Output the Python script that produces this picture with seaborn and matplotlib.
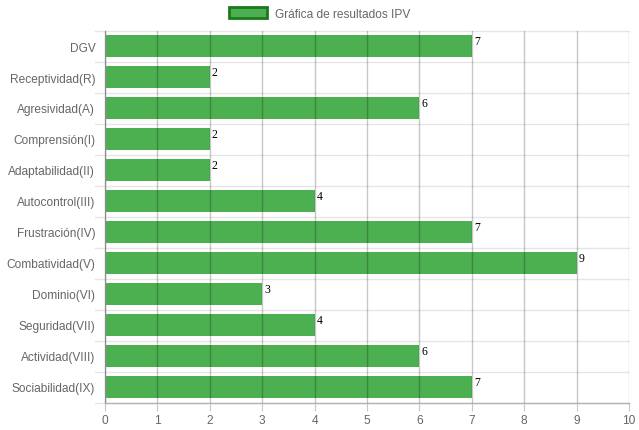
import matplotlib
matplotlib.use("Agg")
import matplotlib.pyplot as plt
import seaborn as sns
import pandas as pd
from matplotlib.patches import Patch

categories = ["DGV", "Receptividad(R)", "Agresividad(A)", "Comprensión(I)",
              "Adaptabilidad(II)", "Autocontrol(III)", "Frustración(IV)",
              "Combatividad(V)", "Dominio(VI)", "Seguridad(VII)",
              "Actividad(VIII)", "Sociabilidad(IX)"]
values = [7, 2, 6, 2, 2, 4, 7, 9, 3, 4, 6, 7]
x_ticks = list(range(0, 11))
series_name = "Gráfica de resultados IPV"

df = pd.DataFrame({"categoria": categories, "valor": values})

sns.set_style("white")
plt.rcParams["font.family"] = ["Liberation Sans", "DejaVu Sans"]

fig = plt.figure(figsize=(6.39, 4.31), dpi=100)
ax = fig.add_axes([105 / 639, 1 - 403.5 / 431, 524 / 639, 372 / 431])

bar_color = "#4caf50"
sns.barplot(data=df, x="valor", y="categoria", orient="h", color=bar_color,
            saturation=1, width=0.72, ax=ax, zorder=2, linewidth=0)

ax.set_xlim(0, 10)
ax.set_ylim(len(categories) - 0.5, -0.5)
ax.set_xticks(x_ticks)
ax.set_xticklabels([str(t) for t in x_ticks])
ax.set_xlabel("")
ax.set_ylabel("")

# vertical grid on top of the bars
for t in x_ticks:
    ax.axvline(t, color="black", alpha=0.22, lw=1, zorder=3)
# light separators between categories
for i in range(len(categories) + 1):
    ax.axhline(i - 0.5, color="#e6e6e6", lw=1, zorder=1, clip_on=False,
               xmin=-10 / 524, xmax=1)

for s in ["top", "right"]:
    ax.spines[s].set_visible(False)
for s in ["left", "bottom"]:
    ax.spines[s].set_color("#b3b3b3")
    ax.spines[s].set_linewidth(1)

ax.tick_params(axis="x", length=6, color="#c8c8c8", labelsize=8.6,
               labelcolor="#666666", pad=2, bottom=True)
ax.tick_params(axis="y", length=0, labelsize=8.6, labelcolor="#666666", pad=7)

# value labels at the end of each bar
for i, v in enumerate(values):
    ax.text(v + 0.04, i - 0.36, str(v), ha="left", va="top", fontsize=8.5,
            family="Liberation Serif", color="black", zorder=4)

handle = Patch(facecolor=bar_color, edgecolor="#1b7a1b", linewidth=2)
fig.legend([handle], [series_name], loc="upper center",
           bbox_to_anchor=(0.5, 1.0), frameon=False, fontsize=8.6,
           labelcolor="#666666", handlelength=3.2, handleheight=1.0,
           borderaxespad=0.3, handletextpad=0.6)

fig.savefig("out.png", dpi=100, facecolor="white")
